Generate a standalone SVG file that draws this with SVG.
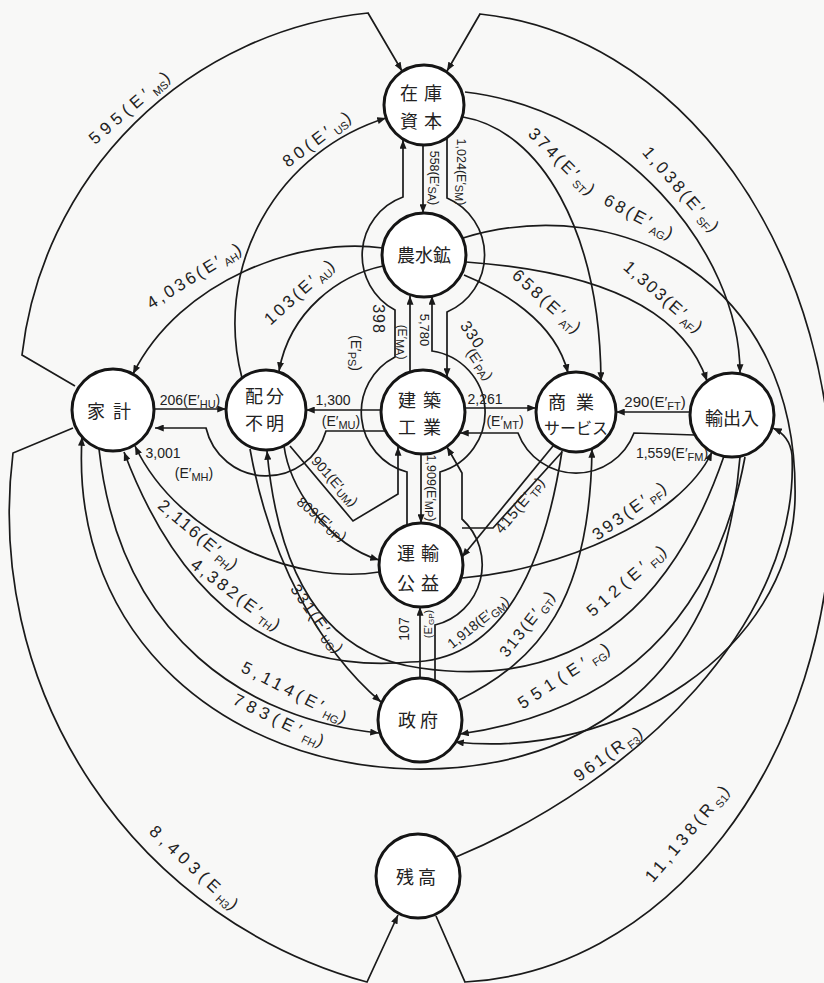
<svg xmlns="http://www.w3.org/2000/svg" width="824" height="983" viewBox="0 0 824 983">
<defs>
<marker id="ah" viewBox="0 0 10 8" refX="10" refY="4" markerWidth="9" markerHeight="7" markerUnits="userSpaceOnUse" orient="auto"><path d="M0,0 L10,4 L0,8 z" fill="#1a1a1a"/></marker>
<style>
.node circle{fill:#fff;stroke:#151515;stroke-width:3}
.node text{font-family:"Noto Sans CJK JP","Noto Sans CJK SC",sans-serif;font-size:18px;text-anchor:middle;fill:#222}
.c{fill:none;stroke:#1a1a1a;stroke-width:1.7}
.a{marker-end:url(#ah)}
.lb{font-family:"Liberation Sans","DejaVu Sans",sans-serif;font-size:17px;fill:#222;text-anchor:middle;letter-spacing:3px}
.s{font-size:11px;letter-spacing:0}
.sm{font-size:14px;letter-spacing:0}
.tiny{font-size:12.5px;letter-spacing:0}
</style>
</defs>
<rect width="824" height="983" fill="#f8f8f7"/>
<g id="connectors">
<path class="c a" d="M75,386 L22,355 A388 388 0 0 1 368,13 L402,71"/>
<path class="c a" d="M242,378 A215 215 0 0 1 386,118"/>
<path class="c a" d="M383,248 C300,236 180,280 133,374"/>
<path class="c a" d="M383,266 C340,275 290,310 279,371"/>
<path class="c a" d="M154,409 L226,409"/>
<path class="c a" d="M386,431 L326,431 A62 62 0 0 1 206,428 L155,428"/>
<path class="c a" d="M381,410 L306,410"/>
<path class="c a" d="M465,408 L536,408"/>
<path class="c a" d="M695,435 L634,433 A62 62 0 0 1 518,433 L460,433"/>
<path class="c a" d="M690,412 L616,412"/>
<path class="c a" d="M423,145 L423,213"/>
<path class="c a" d="M447,138 L447,198 A62 62 0 0 1 447,312 L447,377"/>
<path class="c a" d="M407,525 L407,472 A62 62 0 0 1 395,357 L395,310 A62 62 0 0 1 403,197 L403,140"/>
<path class="c a" d="M410,372 L410,296"/>
<path class="c a" d="M440,527 L440,472 A62 62 0 0 0 432,351 L432,296"/>
<path class="c a" d="M421,454 L421,523"/>
<path class="c a" d="M420,678 L420,607"/>
<path class="c a" d="M435,681 L435,625 A62 62 0 0 0 462,519 L462,473 L447,447"/>
<path class="c" d="M562,452 L493,528 L462,528"/>
<path class="c a" d="M553,446 L462,557"/>
<path class="c a" d="M459,700 C540,660 590,600 592,449"/>
<path class="c a" d="M462,578 C560,570 680,520 712,452"/>
<path class="c a" d="M724,456 Q640,700 420,668 Q285,650 267,451"/>
<path class="c a" d="M745,457 Q700,700 460,734"/>
<path class="c a" d="M456,857 C640,780 800,620 792,455 Q790,436 773,428"/>
<path class="c a" d="M436,916 L465,982 A383 485 0 0 0 480,14 L447,71"/>
<path class="c a" d="M73,428 L13,453 A486 486 0 0 0 367,982 L398,915"/>
<path class="c a" d="M99,449 C120,640 250,720 379,733"/>
<path class="c a" d="M740,457 C720,700 560,772 412,769 C230,765 70,640 82,437"/>
<path class="c a" d="M562,451 Q530,660 410,662 Q210,680 124,452"/>
<path class="c a" d="M250,449 C270,560 320,650 381,702"/>
<path class="c a" d="M379,572 C300,585 180,540 135,446"/>
<path class="c a" d="M290,446 L353,521 L398,494 L398,447"/>
<path class="c a" d="M284,446 C290,490 330,545 379,560"/>
<path class="c a" d="M463,117 C540,130 600,230 601,381"/>
<path class="c a" d="M463,238 C620,190 800,280 795,500 C790,650 620,760 455,742"/>
<path class="c a" d="M465,92 C620,110 740,250 740,373"/>
<path class="c a" d="M466,262 C580,270 680,300 707,381"/>
<path class="c a" d="M464,275 C500,290 555,320 568,373"/>
</g>
<g id="labels">
<text class="lb" style="letter-spacing:5px" transform="translate(131,106) rotate(-41)" y="6">595(E′<tspan class="s" dy="4">MS</tspan><tspan dy="-4">)</tspan></text>
<text class="lb" style="letter-spacing:4px" transform="translate(318,138) rotate(-37)" y="6">80(E′<tspan class="s" dy="4">US</tspan><tspan dy="-4">)</tspan></text>
<text class="lb" transform="translate(195,275) rotate(-32)" y="6">4,036(E′<tspan class="s" dy="4">AH</tspan><tspan dy="-4">)</tspan></text>
<text class="lb" transform="translate(300,291) rotate(-42)" y="6">103(E′<tspan class="s" dy="4">AU</tspan><tspan dy="-4">)</tspan></text>
<text class="lb sm" transform="translate(190,405)">206(E′<tspan class="s" dy="3">HU</tspan><tspan dy="-3">)</tspan></text>
<text class="lb sm" transform="translate(163,458)">3,001</text>
<text class="lb sm" transform="translate(194,478)">(E′<tspan class="s" dy="3">MH</tspan><tspan dy="-3">)</tspan></text>
<text class="lb sm" transform="translate(333,405)">1,300</text>
<text class="lb sm" transform="translate(341,426)">(E′<tspan class="s" dy="3">MU</tspan><tspan dy="-3">)</tspan></text>
<text class="lb sm" transform="translate(485,404)">2,261</text>
<text class="lb sm" transform="translate(505,426)">(E′<tspan class="s" dy="3">MT</tspan><tspan dy="-3">)</tspan></text>
<text class="lb sm" style="font-size:15px" transform="translate(655,407)">290(E′<tspan class="s" dy="3">FT</tspan><tspan dy="-3">)</tspan></text>
<text class="lb sm" transform="translate(672,458)">1,559(E′<tspan class="s" dy="3">FM</tspan><tspan dy="-3">)</tspan></text>
<text class="lb tiny" transform="translate(434,178) rotate(90)" y="4">558(E′<tspan class="s" dy="2">SA</tspan><tspan dy="-2">)</tspan></text>
<text class="lb tiny" transform="translate(461,172) rotate(90)" y="4">1,024(E′<tspan class="s" dy="2">SM</tspan><tspan dy="-2">)</tspan></text>
<text class="lb" style="font-size:16px;letter-spacing:1px" transform="translate(378,319) rotate(90)" y="5">398</text>
<text class="lb sm" transform="translate(356,353) rotate(90)" y="5">(E′<tspan class="s" dy="3">PS</tspan><tspan dy="-3">)</tspan></text>
<text class="lb tiny" style="font-size:13px" transform="translate(424,330) rotate(90)" y="4">5,780</text>
<text class="lb tiny" style="font-size:12px" transform="translate(402,342) rotate(90)" y="4">(E′<tspan class="s" dy="2">MA</tspan><tspan dy="-2">)</tspan></text>
<text class="lb" style="font-size:16px;letter-spacing:1px" transform="translate(472,335) rotate(55)" y="5">330</text>
<text class="lb sm" transform="translate(480,364) rotate(55)" y="5">(E′<tspan class="s" dy="3">PA</tspan><tspan dy="-3">)</tspan></text>
<text class="lb tiny" transform="translate(431,488) rotate(90)" y="4">1,909(E′<tspan class="s" dy="2">MP</tspan><tspan dy="-2">)</tspan></text>
<text class="lb sm" transform="translate(404,629) rotate(-90)" y="5">107</text>
<text class="lb tiny" style="font-size:11px" transform="translate(428,624) rotate(-90)" y="4">(E′<tspan class="s" style="font-size:8px" dy="2">GP</tspan><tspan dy="-2">)</tspan></text>
<text class="lb sm" transform="translate(478,622) rotate(-39)" y="5">1,918(E′<tspan class="s" dy="3">GM</tspan><tspan dy="-3">)</tspan></text>
<text class="lb sm" style="font-size:15px;letter-spacing:1px" transform="translate(520,505) rotate(-50)" y="5">415(E′<tspan class="s" dy="3">TP</tspan><tspan dy="-3">)</tspan></text>
<text class="lb" style="font-size:16px;letter-spacing:2px" transform="translate(527,623) rotate(-52)" y="6">313(E′<tspan class="s" dy="4">GT</tspan><tspan dy="-4">)</tspan></text>
<text class="lb" transform="translate(630,510) rotate(-36)" y="6">393(E′<tspan class="s" dy="4">PF</tspan><tspan dy="-4">)</tspan></text>
<text class="lb" style="letter-spacing:5px" transform="translate(628,579) rotate(-41)" y="6">512(E′<tspan class="s" dy="4">FU</tspan><tspan dy="-4">)</tspan></text>
<text class="lb" style="letter-spacing:6px" transform="translate(566,674) rotate(-33)" y="6">551(E′<tspan class="s" dy="4">FG</tspan><tspan dy="-4">)</tspan></text>
<text class="lb" transform="translate(609,753) rotate(-36)" y="6">961(R<tspan class="s" dy="4">F3</tspan><tspan dy="-4">)</tspan></text>
<text class="lb" style="letter-spacing:4px" transform="translate(688,832) rotate(-50)" y="6">11,138(R<tspan class="s" dy="4">S1</tspan><tspan dy="-4">)</tspan></text>
<text class="lb" style="letter-spacing:5px" transform="translate(196,869) rotate(43)" y="6">8,403(E<tspan class="s" dy="4">H3</tspan><tspan dy="-4">)</tspan></text>
<text class="lb" style="letter-spacing:4px" transform="translate(296,693) rotate(27)" y="6">5,114(E′<tspan class="s" dy="4">HG</tspan><tspan dy="-4">)</tspan></text>
<text class="lb" style="letter-spacing:5px" transform="translate(281,721) rotate(26)" y="6">783(E′<tspan class="s" dy="4">FH</tspan><tspan dy="-4">)</tspan></text>
<text class="lb" transform="translate(237,595) rotate(37)" y="6">4,382(E′<tspan class="s" dy="4">TH</tspan><tspan dy="-4">)</tspan></text>
<text class="lb" style="font-size:16px;letter-spacing:2px" transform="translate(318,619) rotate(55)" y="6">331(E′<tspan class="s" dy="4">UG</tspan><tspan dy="-4">)</tspan></text>
<text class="lb" style="letter-spacing:2px" transform="translate(199,535) rotate(40)" y="6">2,116(E′<tspan class="s" dy="4">PH</tspan><tspan dy="-4">)</tspan></text>
<text class="lb sm" transform="translate(335,481) rotate(48)" y="5">901(E′<tspan class="s" dy="3">UM</tspan><tspan dy="-3">)</tspan></text>
<text class="lb sm" transform="translate(322,519) rotate(40)" y="5">809(E′<tspan class="s" dy="3">UP</tspan><tspan dy="-3">)</tspan></text>
<text class="lb" transform="translate(563,162) rotate(45)" y="6">374(E′<tspan class="s" dy="4">ST</tspan><tspan dy="-4">)</tspan></text>
<text class="lb" transform="translate(640,217) rotate(28)" y="6">68(E′<tspan class="s" dy="4">AG</tspan><tspan dy="-4">)</tspan></text>
<text class="lb" transform="translate(682,190) rotate(49)" y="6">1,038(E′<tspan class="s" dy="4">SF</tspan><tspan dy="-4">)</tspan></text>
<text class="lb" style="letter-spacing:2px" transform="translate(664,297) rotate(41)" y="6">1,303(E′<tspan class="s" dy="4">AF</tspan><tspan dy="-4">)</tspan></text>
<text class="lb" transform="translate(548,302) rotate(42)" y="6">658(E′<tspan class="s" dy="4">AT</tspan><tspan dy="-4">)</tspan></text>
</g>
<g id="n-stock" class="node"><circle cx="424" cy="105" r="40"/><text x="424" y="100" style="letter-spacing:6px">在庫</text><text x="424" y="128" style="letter-spacing:6px">資本</text></g>
<g id="n-agri" class="node"><circle cx="424" cy="255" r="42"/><text x="424" y="262">農水鉱</text></g>
<g id="n-household" class="node"><circle cx="113" cy="410" r="41"/><text x="113" y="418" style="letter-spacing:8px">家計</text></g>
<g id="n-unknown" class="node"><circle cx="266" cy="410" r="40"/><text x="266" y="403" style="letter-spacing:3px">配分</text><text x="266" y="430" style="letter-spacing:3px">不明</text></g>
<g id="n-construction" class="node"><circle cx="423" cy="412" r="42"/><text x="423" y="407" style="letter-spacing:7px">建築</text><text x="423" y="434" style="letter-spacing:7px">工業</text></g>
<g id="n-commerce" class="node"><circle cx="576" cy="412" r="40"/><text x="576" y="409" style="letter-spacing:10px">商業</text><text x="576" y="434" style="font-size:16px">サービス</text></g>
<g id="n-foreign" class="node"><circle cx="732" cy="415" r="42"/><text x="732" y="425">輸出入</text></g>
<g id="n-transport" class="node"><circle cx="421" cy="565" r="42"/><text x="421" y="560" style="letter-spacing:6px">運輸</text><text x="421" y="590" style="letter-spacing:6px">公益</text></g>
<g id="n-government" class="node"><circle cx="420" cy="720" r="42"/><text x="420" y="727" style="letter-spacing:4px">政府</text></g>
<g id="n-balance" class="node"><circle cx="418" cy="876" r="42"/><text x="418" y="884" style="letter-spacing:4px">残高</text></g>
</svg>
